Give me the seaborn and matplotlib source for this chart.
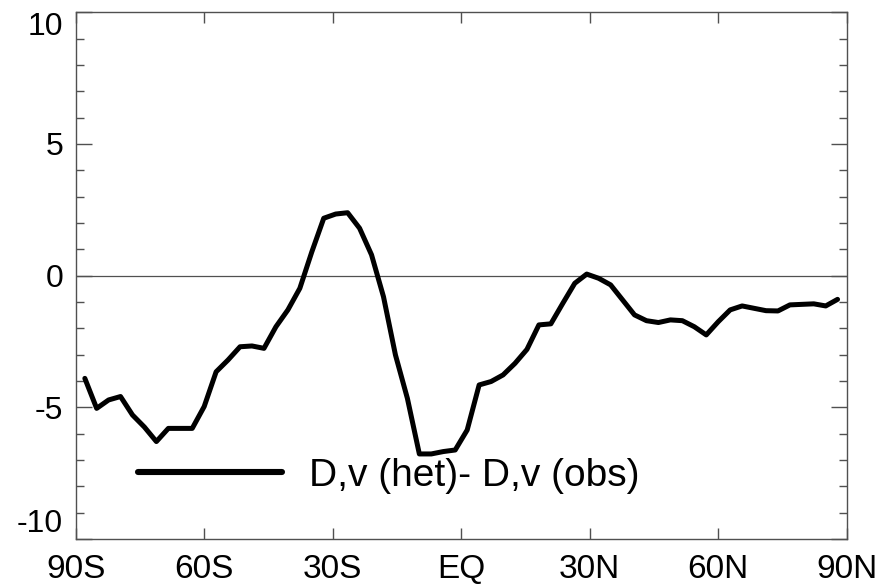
import numpy as np
import pandas as pd
import matplotlib.pyplot as plt
import seaborn as sns

# T42 gaussian latitudes, south to north
lats = [-87.86, -85.10, -82.31, -79.53, -76.74, -73.95, -71.16, -68.37,
        -65.58, -62.79, -60.00, -57.21, -54.42, -51.63, -48.84, -46.04,
        -43.25, -40.46, -37.67, -34.88, -32.09, -29.30, -26.51, -23.72,
        -20.93, -18.14, -15.35, -12.56, -9.77, -6.98, -4.19, -1.40,
        1.40, 4.19, 6.98, 9.77, 12.56, 15.35, 18.14, 20.93,
        23.72, 26.51, 29.30, 32.09, 34.88, 37.67, 40.46, 43.25,
        46.04, 48.84, 51.63, 54.42, 57.21, 60.00, 62.79, 65.58,
        68.37, 71.16, 73.95, 76.74, 79.53, 82.31, 85.10, 87.86]

diff = [-3.90, -5.04, -4.72, -4.59, -5.29, -5.75, -6.30, -5.80,
        -5.80, -5.80, -4.97, -3.65, -3.20, -2.70, -2.67, -2.76,
        -1.94, -1.30, -0.48, 0.90, 2.18, 2.34, 2.39, 1.80,
        0.79, -0.80, -3.01, -4.66, -6.77, -6.77, -6.68, -6.62,
        -5.86, -4.15, -4.02, -3.77, -3.33, -2.80, -1.87, -1.83,
        -1.05, -0.29, 0.06, -0.10, -0.35, -0.92, -1.49, -1.71,
        -1.78, -1.68, -1.71, -1.94, -2.25, -1.75, -1.30, -1.15,
        -1.24, -1.33, -1.34, -1.11, -1.09, -1.07, -1.15, -0.90]

xticks = [-90, -60, -30, 0, 30, 60, 90]
xlabels = ['90S', '60S', '30S', 'EQ', '30N', '60N', '90N']
yticks = [-10, -5, 0, 5, 10]

df = pd.DataFrame({'lat': lats, 'diff': diff})

sns.set_style('ticks')
plt.rcParams['font.family'] = ['Liberation Sans', 'DejaVu Sans']
plt.rcParams['axes.unicode_minus'] = False

fig = plt.figure(figsize=(8.82, 5.86), dpi=100)
ax = fig.add_axes([0.0858, 0.0802, 0.8742, 0.8988])

edge = '#505050'
ax.axhline(0, color=edge, lw=0.9, zorder=1)
sns.lineplot(data=df, x='lat', y='diff', color='black', lw=3.6,
             label='D,v (het)- D,v (obs)', ax=ax, zorder=3)

ax.set_xlim(-90, 90)
ax.set_ylim(-10, 10)
ax.set_xticks(xticks)
ax.set_xticklabels(xlabels)
ax.set_yticks(yticks)
ax.set_yticks(np.arange(-10, 11, 1), minor=True)
ax.set_xlabel('')
ax.set_ylabel('')

for s in ax.spines.values():
    s.set_visible(True)
    s.set_color(edge)
    s.set_linewidth(1.0)

ax.tick_params(axis='x', which='major', direction='in', top=True, bottom=True,
               length=8, width=1, color=edge, labelsize=24, pad=11,
               labelcolor='black')
ax.tick_params(axis='x', which='minor', bottom=False, top=False)
ax.tick_params(axis='y', which='major', direction='in', left=True, right=True,
               length=11.5, width=1, color=edge, labelsize=23, pad=9,
               labelcolor='black')
ax.tick_params(axis='y', which='minor', direction='in', left=True, right=True,
               length=5.8, width=1, color=edge)

ylabs = ax.get_yticklabels()
ylabs[0].set_va('bottom')
ylabs[-1].set_va('top')

leg = ax.legend(loc='center left', bbox_to_anchor=(0.081, 0.12), frameon=False,
                fontsize=28, handlelength=3.7, handletextpad=0.7,
                borderpad=0, borderaxespad=0, labelcolor='black')
leg.get_lines()[0].set_linewidth(4.4)

fig.savefig('out.png', dpi=100)
